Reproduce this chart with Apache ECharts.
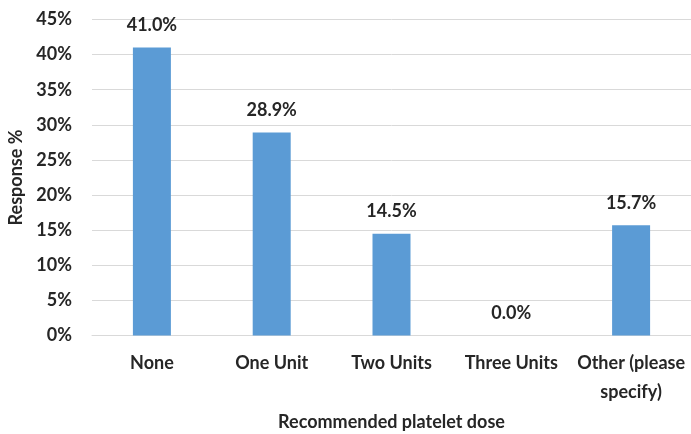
<!DOCTYPE html>
<html>
<head>
<meta charset="utf-8">
<script src="https://cdn.jsdelivr.net/npm/echarts@6/dist/echarts.min.js"></script>
<style>
  html, body { margin: 0; padding: 0; background: #fff; }
  #chart { width: 691px; height: 434px; }
</style>
</head>
<body>
<div id="chart"></div>
<script>
const categories = ['None', 'One Unit', 'Two Units', 'Three Units', 'Other (please\nspecify)']
const responses = [41.0, 28.9, 14.5, 0.0, 15.7]
const yTicks = { min: 0, max: 45, step: 5 }

const textColor = '#262626'
const font = 'Lato, "Open Sans", sans-serif'

const chart = echarts.init(document.getElementById('chart'), null, { renderer: 'canvas' })
chart.setOption({
  animation: false,
  grid: {
    left: 92,
    right: 0,
    top: 19.5,
    bottom: 98.5,
    containLabel: false,
    outerBoundsMode: 'none'
  },
  xAxis: {
    type: 'category',
    data: categories,
    name: 'Recommended platelet dose',
    nameLocation: 'middle',
    nameGap: 78,
    nameTextStyle: { color: textColor, fontFamily: font, fontWeight: 'bold', fontSize: 18 },
    axisTick: { show: false },
    axisLine: { lineStyle: { color: '#d9d9d9' } },
    axisLabel: {
      color: textColor,
      fontFamily: font,
      fontWeight: 'bold',
      fontSize: 18,
      lineHeight: 29,
      margin: 13,
      interval: 0
    }
  },
  yAxis: {
    type: 'value',
    min: yTicks.min,
    max: yTicks.max,
    interval: yTicks.step,
    name: 'Response %',
    nameLocation: 'middle',
    nameGap: 61,
    nameTextStyle: { color: textColor, fontFamily: font, fontWeight: 'bold', fontSize: 18 },
    axisLine: { show: false },
    axisTick: { show: false },
    splitLine: { lineStyle: { color: '#d9d9d9' } },
    axisLabel: {
      color: textColor,
      fontFamily: font,
      fontWeight: 'bold',
      fontSize: 18,
      margin: 20,
      formatter: '{value}%'
    }
  },
  series: [
    {
      type: 'bar',
      data: responses,
      barWidth: 38,
      itemStyle: { color: '#5b9bd5' },
      label: {
        show: true,
        position: 'top',
        distance: 13,
        color: textColor,
        fontFamily: font,
        fontWeight: 'bold',
        fontSize: 18,
        formatter: p => p.value.toFixed(1) + '%'
      }
    }
  ]
})
</script>
</body>
</html>
